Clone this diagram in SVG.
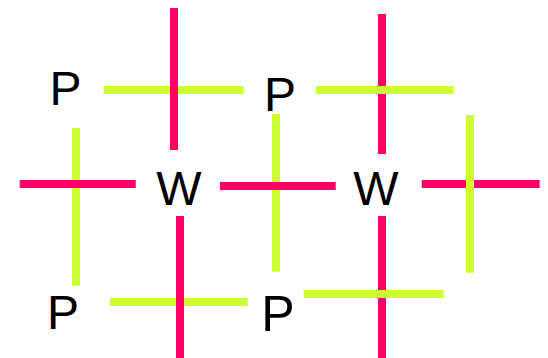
<svg xmlns="http://www.w3.org/2000/svg" width="548" height="358" viewBox="0 0 548 358">
<style>
.m{stroke:#ff0066;stroke-width:8;fill:none}
.g{stroke:#ccff33;stroke-width:8;fill:none}
.t{font-family:"Liberation Sans",Arial,sans-serif;font-size:48px;fill:#000;text-anchor:middle}
</style>
<rect width="548" height="358" fill="#fff"/>
<g id="connectors">
<line class="g" x1="103.7" y1="90" x2="243.7" y2="90"/>
<line class="m" x1="174" y1="8" x2="174" y2="150"/>
<line class="m" x1="382" y1="14" x2="382" y2="154"/>
<line class="g" x1="315.7" y1="90" x2="453.7" y2="90"/>
<line class="g" x1="76" y1="128" x2="76" y2="285.7"/>
<line class="m" x1="19.7" y1="184" x2="135.7" y2="184"/>
<line class="g" x1="276" y1="114" x2="276" y2="271.7"/>
<line class="m" x1="220" y1="186" x2="335.7" y2="186"/>
<line class="m" x1="421.7" y1="184" x2="539.7" y2="184"/>
<line class="g" x1="470" y1="115" x2="470" y2="272.7"/>
<line class="g" x1="109.7" y1="302" x2="247.7" y2="302"/>
<line class="m" x1="180" y1="216" x2="180" y2="358"/>
<line class="m" x1="382" y1="216" x2="382" y2="358"/>
<line class="g" x1="303.7" y1="294" x2="443.7" y2="294"/>
</g>
<g id="p1"><text class="t" x="65.5" y="104.5">P</text></g>
<g id="p2"><text class="t" x="280" y="110.5">P</text></g>
<g id="w1"><text class="t" x="179" y="205">W</text></g>
<g id="w2"><text class="t" x="376" y="205">W</text></g>
<g id="p3"><text class="t" x="63" y="329">P</text></g>
<g id="p4"><text class="t" x="278" y="330.5" style="font-size:50px">P</text></g>
</svg>
